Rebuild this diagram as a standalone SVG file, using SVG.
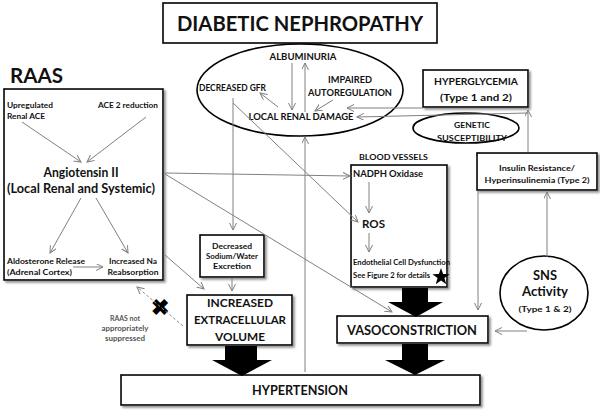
<svg xmlns="http://www.w3.org/2000/svg" width="600" height="411" viewBox="0 0 600 411">
<style>
.t{font-family:Lato,"Open Sans","Liberation Sans",sans-serif;font-weight:bold;fill:#111}
.m{text-anchor:middle}
.box{fill:#fff;stroke:#000;stroke-width:1.6}
.bx{fill:#fff;stroke:#000;stroke-width:1.6;filter:url(#sh)}
.ln{stroke:#808080;stroke-width:1;fill:none;marker-end:url(#ah)}
.dl{stroke:#909090;stroke-width:1;fill:none;stroke-dasharray:3,2;marker-end:url(#ah)}
.big{fill:#000}
</style>
<defs>
<marker id="ah" markerUnits="userSpaceOnUse" markerWidth="9" markerHeight="9" refX="7" refY="3.5" orient="auto">
<path d="M0,0 L7,3.5 L0,7" fill="none" stroke="#808080" stroke-width="1"/>
</marker>
<filter id="sh" x="-10%" y="-10%" width="125%" height="140%">
<feDropShadow dx="2" dy="2" stdDeviation="1" flood-color="#777" flood-opacity="0.8"/>
</filter>
</defs>
<rect width="600" height="411" fill="#fff"/>

<g id="title">
<rect class="box" x="163" y="3" width="274" height="40"/>
<text class="t m" x="300" y="31" font-size="21" textLength="246" lengthAdjust="spacingAndGlyphs">DIABETIC NEPHROPATHY</text>
</g>

<g id="renal">
<ellipse cx="300" cy="90" rx="103" ry="46" fill="none" stroke="#000" stroke-width="1.6"/>
</g>
<g id="albuminuria"><text class="t m" x="303" y="60" font-size="9" textLength="67" lengthAdjust="spacingAndGlyphs">ALBUMINURIA</text></g>
<g id="gfr"><text class="t" x="199" y="91" font-size="9" textLength="67" lengthAdjust="spacingAndGlyphs">DECREASED GFR</text></g>
<g id="autoreg">
<text class="t m" x="350" y="83" font-size="9" textLength="44" lengthAdjust="spacingAndGlyphs">IMPAIRED</text>
<text class="t m" x="350" y="96" font-size="9" textLength="84" lengthAdjust="spacingAndGlyphs">AUTOREGULATION</text>
</g>
<g id="lrd"><text class="t m" x="301" y="120" font-size="9" textLength="105" lengthAdjust="spacingAndGlyphs">LOCAL RENAL DAMAGE</text></g>

<g id="raas">
<text class="t" x="10" y="83" font-size="21" textLength="53" lengthAdjust="spacingAndGlyphs">RAAS</text>
<rect class="bx" x="4" y="89" width="159" height="191"/>
</g>
<g id="upace">
<text class="t" x="7" y="108" font-size="7.5" textLength="46" lengthAdjust="spacingAndGlyphs">Upregulated</text>
<text class="t" x="7" y="119" font-size="7.5" textLength="38" lengthAdjust="spacingAndGlyphs">Renal  ACE</text>
</g>
<g id="ace2"><text class="t" x="98" y="108" font-size="7.5" textLength="60" lengthAdjust="spacingAndGlyphs">ACE 2 reduction</text></g>
<g id="ang2">
<text class="t m" x="81" y="177" font-size="14" textLength="75" lengthAdjust="spacingAndGlyphs">Angiotensin II</text>
<text class="t m" x="81" y="193" font-size="14" textLength="148" lengthAdjust="spacingAndGlyphs">(Local Renal and Systemic)</text>
</g>
<g id="aldo">
<text class="t" x="7" y="264" font-size="7.5" textLength="78" lengthAdjust="spacingAndGlyphs">Aldosterone Release</text>
<text class="t" x="7" y="275" font-size="7.5" textLength="65" lengthAdjust="spacingAndGlyphs">(Adrenal Cortex)</text>
</g>
<g id="na">
<text class="t m" x="133" y="264" font-size="7.5" textLength="48" lengthAdjust="spacingAndGlyphs">Increased Na</text>
<text class="t m" x="133" y="275" font-size="7.5" textLength="51" lengthAdjust="spacingAndGlyphs">Reabsorption</text>
</g>

<g id="notsuppressed">
<text class="t" x="160" y="315" font-size="22" text-anchor="middle" style="fill:#000">✖</text>
<text class="t m" x="125" y="321" font-size="6.5" textLength="30" lengthAdjust="spacingAndGlyphs" style="fill:#555">RAAS not</text>
<text class="t m" x="125" y="331" font-size="6.5" textLength="47" lengthAdjust="spacingAndGlyphs" style="fill:#555">appropriately</text>
<text class="t m" x="125" y="341" font-size="6.5" textLength="40" lengthAdjust="spacingAndGlyphs" style="fill:#555">suppressed</text>
</g>

<g id="sodium">
<rect class="bx" x="200" y="235" width="64" height="42"/>
<text class="t m" x="232" y="249" font-size="7" textLength="40" lengthAdjust="spacingAndGlyphs">Decreased</text>
<text class="t m" x="232" y="259" font-size="7" textLength="52" lengthAdjust="spacingAndGlyphs">Sodium/Water</text>
<text class="t m" x="232" y="269" font-size="7" textLength="38" lengthAdjust="spacingAndGlyphs">Excretion</text>
</g>

<g id="ecv">
<rect class="bx" x="187" y="295" width="105" height="50"/>
<text class="t m" x="240" y="307" font-size="12" textLength="66" lengthAdjust="spacingAndGlyphs">INCREASED</text>
<text class="t m" x="240" y="324" font-size="12" textLength="92" lengthAdjust="spacingAndGlyphs">EXTRACELLULAR</text>
<text class="t m" x="240" y="341" font-size="12" textLength="50" lengthAdjust="spacingAndGlyphs">VOLUME</text>
</g>

<g id="hypertension">
<rect class="bx" x="121" y="375" width="359" height="30"/>
<text class="t m" x="300" y="395" font-size="14" textLength="96" lengthAdjust="spacingAndGlyphs">HYPERTENSION</text>
</g>

<g id="vaso">
<rect class="bx" x="337" y="316" width="151" height="27"/>
<text class="t m" x="412" y="335" font-size="14" textLength="130" lengthAdjust="spacingAndGlyphs">VASOCONSTRICTION</text>
</g>

<g id="bloodvessels">
<text class="t" x="359" y="160" font-size="8" textLength="69" lengthAdjust="spacingAndGlyphs">BLOOD VESSELS</text>
<rect class="bx" x="351" y="165" width="96" height="122"/>
<text class="t" x="353" y="177" font-size="9" textLength="70" lengthAdjust="spacingAndGlyphs">NADPH Oxidase</text>
<text class="t" x="362" y="228" font-size="12" textLength="23" lengthAdjust="spacingAndGlyphs">ROS</text>
<text class="t" x="353" y="265" font-size="7" textLength="97" lengthAdjust="spacingAndGlyphs">Endothelial Cell Dysfunction</text>
<text class="t" x="353" y="278" font-size="7" textLength="77" lengthAdjust="spacingAndGlyphs">See Figure 2 for details</text>
<polygon fill="#000" points="441,268 443.1,274.1 449.6,274.2 444.4,278.1 446.3,284.3 441,280.6 435.7,284.3 437.6,278.1 432.4,274.2 438.9,274.1"/>
</g>

<g id="hyperglycemia">
<rect class="bx" x="423" y="70" width="105" height="37"/>
<text class="t m" x="476" y="85" font-size="9" textLength="84" lengthAdjust="spacingAndGlyphs">HYPERGLYCEMIA</text>
<text class="t m" x="476" y="101" font-size="9" textLength="72" lengthAdjust="spacingAndGlyphs">(Type 1 and 2)</text>
</g>

<g id="genetic">
<ellipse cx="466" cy="128" rx="53" ry="15" fill="#fff" stroke="#000" stroke-width="1.6"/>
<text class="t m" x="472" y="128" font-size="8" textLength="36" lengthAdjust="spacingAndGlyphs">GENETIC</text>
<text class="t m" x="472" y="141" font-size="8" textLength="70" lengthAdjust="spacingAndGlyphs">SUSCEPTIBILITY</text>
</g>

<g id="insulin">
<rect class="bx" x="477" y="153" width="120" height="37"/>
<text class="t m" x="537" y="171" font-size="8" textLength="76" lengthAdjust="spacingAndGlyphs">Insulin Resistance/</text>
<text class="t m" x="537" y="183" font-size="8" textLength="105" lengthAdjust="spacingAndGlyphs">Hyperinsulinemia (Type 2)</text>
</g>

<g id="sns">
<ellipse cx="544" cy="293" rx="44" ry="37" fill="#fff" stroke="#000" stroke-width="1.6"/>
<text class="t m" x="545" y="280" font-size="13" textLength="24" lengthAdjust="spacingAndGlyphs">SNS</text>
<text class="t m" x="545" y="296" font-size="13" textLength="46" lengthAdjust="spacingAndGlyphs">Activity</text>
<text class="t m" x="545" y="312" font-size="7.5" textLength="53" lengthAdjust="spacingAndGlyphs">(Type 1 &amp; 2)</text>
</g>

<g id="connectors">
<line class="ln" x1="22" y1="122" x2="81" y2="162"/>
<line class="ln" x1="146" y1="117" x2="87" y2="162"/>
<line class="ln" x1="81" y1="198" x2="50" y2="253"/>
<line class="ln" x1="96" y1="198" x2="128" y2="253"/>
<line class="ln" x1="73" y1="267" x2="103" y2="267"/>
<line class="ln" x1="165" y1="255" x2="204" y2="289"/>
<line class="dl" x1="183" y1="326" x2="137" y2="287"/>
<line class="ln" x1="165" y1="173" x2="350" y2="176"/>
<line class="ln" x1="165" y1="174" x2="392" y2="312"/>
<line class="ln" x1="233" y1="98" x2="233" y2="230"/>
<line class="ln" x1="233" y1="103" x2="358" y2="222"/>
<line class="ln" x1="232" y1="278" x2="232" y2="291"/>
<line class="ln" x1="305" y1="372" x2="305" y2="137"/>
<line class="ln" x1="369" y1="182" x2="369" y2="213"/>
<line class="ln" x1="369" y1="233" x2="369" y2="252"/>
<line class="ln" x1="478" y1="191" x2="478" y2="310"/>
<line class="ln" x1="547" y1="257" x2="547" y2="192"/>
<line class="ln" x1="527" y1="331" x2="495" y2="331"/>
<line class="ln" x1="528" y1="152" x2="528" y2="110"/>
<line class="ln" x1="423" y1="108" x2="347" y2="108"/>
<line class="ln" x1="528" y1="113" x2="357" y2="117"/>
<line class="ln" x1="292" y1="63" x2="292" y2="110"/>
<line class="ln" x1="305" y1="112" x2="305" y2="63"/>
<line class="ln" x1="278" y1="107" x2="260" y2="93"/>
<line class="ln" x1="333" y1="100" x2="315" y2="111"/>
<polygon class="big" points="225,346 257,346 257,360 272,360 242,376 212,360 225,360"/>
<polygon class="big" points="402,288 428,288 428,302 443,302 416,317 388,302 402,302"/>
<polygon class="big" points="402,344 428,344 428,360 445,360 415,375 385,360 402,360"/>
</g>
</svg>
